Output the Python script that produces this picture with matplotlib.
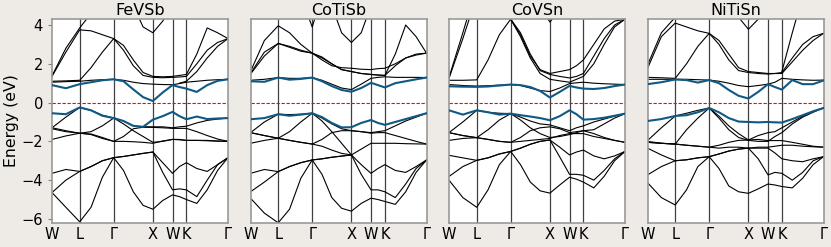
import numpy as np
import matplotlib.pyplot as plt

nan = np.nan

# k-path W-L-G-X-W-K-G (segment lengths in 2pi/a) and sampling per segment
seg_len = [0.707, 0.866, 1.0, 0.5, 0.354, 1.061]
seg_div = [2, 3, 4, 2, 2, 4]
sym_labels = ['W', 'L', 'Γ', 'X', 'W', 'K', 'Γ']

# ---------------------------------------------------------------- FeVSb
fevsb_cb = [0.90, 0.74, 0.95, 1.05, 1.15, 1.20, 1.10, 0.68, 0.28, 0.08, 0.52, 0.90, 0.80, 0.72, 0.55, 0.90, 1.12, 1.20]
fevsb_vb = [-0.55, -0.60, -0.25, -0.40, -0.68, -0.80, -0.95, -1.20, -1.25, -0.88, -0.70, -0.48, -0.70, -0.86, -0.72, -0.85, -0.82, -0.80]
fevsb_bands = [
    [-4.64, -5.40, -6.15, -5.40, -3.85, -2.84, -3.50, -4.60, -5.30, -5.50, -5.05, -4.76, -4.85, -5.00, -5.20, -4.50, -3.50, -2.84],
    [-4.64, -4.00, -3.55, -3.30, -3.00, -2.84, -2.78, -2.70, -2.62, -2.55, -3.60, -4.50, -4.45, -4.50, -4.85, -4.00, -3.20, -2.84],
    [-3.65, -3.45, -3.55, -3.30, -3.00, -2.84, -2.78, -2.70, -2.62, -2.55, -3.10, -3.65, -3.30, -3.10, -3.40, -3.55, -3.20, -2.84],
    [-1.30, -1.45, -1.58, -1.62, -1.80, -2.00, -1.75, -1.35, -1.27, -1.28, -1.30, -1.33, -1.33, -1.33, -1.50, -1.70, -1.88, -2.00],
    [-1.90, -1.72, -1.58, -1.65, -1.85, -2.00, -2.00, -2.02, -2.05, -2.10, -1.98, -1.90, -1.92, -1.95, -1.95, -1.95, -1.98, -2.00],
    [-1.30, -0.75, -0.25, -0.40, -0.65, -0.80, -0.95, -1.20, -1.25, -1.25, -1.25, -1.30, -1.25, -1.22, -1.05, -0.92, -0.85, -0.80],
    [-1.35, -1.50, -1.58, -1.50, -1.20, -0.80, -1.10, -1.45, -1.75, -2.05, -2.00, -1.90, -1.90, -1.95, -1.95, -1.97, -1.99, -2.00],
    [1.05, 1.08, 1.10, 1.15, 1.18, 1.20, 1.15, 1.05, 0.98, 0.95, 0.93, 0.92, 0.98, 1.05, 1.10, 1.15, 1.18, 1.20],
    [1.10, 1.12, 1.15, 1.80, 2.60, 3.30, 2.70, 1.90, 1.40, 1.30, 1.28, 1.30, 1.32, 1.35, 2.00, 2.70, 3.10, 3.30],
    [1.35, 2.60, 3.75, 3.70, 3.50, 3.30, 2.95, 2.20, 1.55, 1.35, 1.33, 1.35, 1.40, 1.45, 2.50, 3.85, 3.60, 3.30],
    [1.38, 2.80, 3.85, 4.60, 5.50, nan, nan, nan, nan, nan, nan, nan, nan, nan, nan, nan, nan, nan],
    [nan, nan, nan, nan, nan, nan, nan, nan, nan, nan, nan, nan, 1.00, 1.10, 1.60, 2.30, 2.90, 3.30],
    [nan, nan, nan, nan, nan, nan, nan, 5.00, 3.90, 3.60, 4.20, 5.00, nan, nan, nan, nan, nan, nan],
]

# ---------------------------------------------------------------- CoTiSb
cotisb_cb = [1.10, 1.07, 1.29, 1.18, 1.22, 1.29, 1.10, 0.85, 0.65, 0.56, 0.75, 1.02, 0.90, 0.78, 1.00, 1.10, 1.20, 1.29]
cotisb_vb = [-0.86, -0.80, -0.60, -0.68, -0.62, -0.55, -0.75, -1.05, -1.28, -1.27, -1.05, -0.90, -1.05, -1.15, -1.00, -0.85, -0.70, -0.55]
cotisb_bands = [
    [-4.93, -5.70, -6.20, -5.50, -3.90, -2.96, -3.70, -4.90, -5.45, -5.60, -5.20, -4.93, -5.00, -5.10, -5.25, -4.60, -3.60, -2.96],
    [-4.60, -4.10, -3.56, -3.30, -3.10, -2.96, -2.90, -2.82, -2.76, -2.70, -3.70, -4.50, -4.50, -4.60, -4.90, -4.20, -3.40, -2.96],
    [-3.65, -3.45, -3.56, -3.30, -3.10, -2.96, -2.90, -2.82, -2.76, -2.70, -3.20, -3.65, -3.40, -3.20, -3.50, -3.60, -3.30, -2.96],
    [-1.55, -1.70, -1.84, -1.95, -2.05, -2.14, -1.90, -1.55, -1.45, -1.45, -1.50, -1.58, -1.55, -1.55, -1.70, -1.85, -2.00, -2.14],
    [-2.10, -1.95, -1.84, -1.95, -2.05, -2.14, -2.25, -2.45, -2.62, -2.70, -2.40, -2.10, -2.10, -2.10, -2.10, -2.12, -2.13, -2.14],
    [-1.55, -1.00, -0.60, -0.62, -0.60, -0.55, -0.80, -1.10, -1.35, -1.45, -1.50, -1.55, -1.50, -1.45, -1.20, -0.95, -0.75, -0.55],
    [-1.55, -1.70, -1.84, -1.50, -1.00, -0.55, -0.95, -1.50, -2.10, -2.70, nan, nan, nan, nan, nan, nan, nan, nan],
    [1.15, 1.20, 1.29, 1.25, 1.25, 1.29, 1.15, 0.95, 0.75, 0.67, 0.95, 1.25, 1.30, 1.33, 1.30, 1.30, 1.30, 1.29],
    [1.47, 2.40, 3.05, 2.90, 2.70, 2.55, 2.20, 1.90, 1.80, 1.77, 1.72, 1.70, 1.75, 1.77, 2.00, 2.30, 2.45, 2.55],
    [1.60, 3.20, 3.96, 3.60, 3.00, 2.55, 2.30, 2.00, 1.70, 1.60, 1.50, 1.45, 1.42, 1.40, 2.50, 4.00, 3.40, 2.55],
    [1.50, 2.60, 3.05, 2.85, 2.65, 2.55, 2.35, 2.00, 1.70, 1.60, 1.50, 1.45, 1.42, 1.40, 1.90, 2.30, 2.50, 2.55],
    [nan, nan, nan, nan, nan, nan, nan, 5.00, 3.60, 3.10, 3.60, 5.00, nan, nan, nan, nan, nan, nan],
    [nan, nan, nan, nan, 5.50, 3.90, 5.50, nan, nan, nan, nan, nan, nan, nan, nan, nan, nan, nan],
]

# ---------------------------------------------------------------- CoVSn
covsn_cb = [0.84, 0.82, 0.81, 0.83, 0.88, 0.93, 0.90, 0.80, 0.60, 0.26, 0.55, 0.86, 0.78, 0.72, 0.70, 0.75, 0.85, 0.93]
covsn_vb = [-0.40, -0.62, -0.40, -0.50, -0.62, -0.57, -0.65, -0.72, -0.80, -0.91, -0.70, -0.40, -0.60, -0.88, -0.85, -0.78, -0.68, -0.57]
covsn_bands = [
    [-4.00, -4.90, -5.40, -4.50, -3.20, -2.52, -3.20, -4.10, -4.55, -4.67, -4.25, -3.85, -3.95, -4.10, -4.40, -3.80, -3.00, -2.52],
    [-3.81, -3.30, -2.98, -2.85, -2.65, -2.52, -2.35, -2.15, -2.00, -1.93, -2.80, -3.70, -3.70, -3.75, -4.00, -3.50, -2.90, -2.52],
    [-2.72, -2.85, -2.98, -2.85, -2.65, -2.52, -2.35, -2.15, -2.00, -1.93, -2.30, -2.70, -2.55, -2.45, -2.75, -2.90, -2.75, -2.52],
    [-1.55, -1.70, -1.81, -1.90, -2.00, -2.05, -1.80, -1.45, -1.30, -1.25, -1.35, -1.55, -1.50, -1.45, -1.60, -1.80, -1.95, -2.05],
    [-1.95, -1.85, -1.81, -1.90, -2.00, -2.05, -2.00, -1.95, -1.90, -1.85, -1.70, -1.60, -1.60, -1.60, -1.75, -1.85, -1.95, -2.05],
    [-1.55, -1.00, -0.40, -0.50, -0.55, -0.57, -0.75, -0.95, -1.10, -1.15, -1.30, -1.45, -1.30, -1.20, -1.00, -0.85, -0.70, -0.57],
    [-1.55, -1.70, -1.81, -1.40, -0.90, -0.57, -0.90, -1.30, -1.60, -1.80, -1.75, -1.65, -1.55, -1.45, -1.40, -1.10, -0.80, -0.57],
    [0.93, 0.88, 0.85, 0.87, 0.90, 0.93, 0.88, 0.75, 0.62, 0.57, 0.75, 0.98, 1.02, 1.05, 1.00, 0.97, 0.95, 0.93],
    [1.15, 1.15, 1.17, 2.20, 3.50, 4.30, 3.40, 2.30, 1.50, 1.20, 1.12, 1.05, 1.20, 1.35, 2.00, 3.00, 3.90, 4.30],
    [1.25, 3.30, 5.50, 5.50, 5.00, 4.30, 3.60, 2.50, 1.65, 1.45, 1.35, 1.27, 1.35, 1.50, 2.40, 3.30, 4.00, 4.30],
    [1.30, 3.60, 6.00, 6.00, 5.50, 4.30, 3.50, 2.40, 1.70, 1.50, 1.60, 1.70, 1.90, 2.20, 3.00, 3.80, 4.20, 4.30],
    [nan, nan, nan, nan, nan, nan, nan, nan, 5.00, 4.15, 4.80, nan, nan, nan, nan, nan, nan, nan],
]

# ---------------------------------------------------------------- NiTiSn
nitisn_cb = [0.95, 1.05, 1.19, 1.16, 1.03, 1.16, 1.00, 0.65, 0.35, 0.21, 0.55, 0.95, 0.80, 0.67, 1.16, 0.95, 0.95, 1.14]
nitisn_vb = [-0.95, -0.85, -0.69, -0.65, -0.50, -0.28, -0.50, -0.80, -0.98, -1.00, -1.02, -1.00, -1.02, -1.03, -0.85, -0.65, -0.45, -0.28]
nitisn_bands = [
    [-4.13, -4.90, -5.28, -4.50, -3.30, -2.79, -3.40, -4.30, -4.60, -4.68, -4.45, -4.20, -4.25, -4.33, -4.40, -3.90, -3.20, -2.79],
    [-3.73, -3.30, -3.00, -2.95, -2.85, -2.79, -2.65, -2.50, -2.40, -2.35, -2.90, -3.73, -3.60, -3.65, -4.00, -3.60, -3.00, -2.79],
    [-2.35, -2.70, -3.00, -2.95, -2.85, -2.79, -2.65, -2.50, -2.40, -2.35, -2.35, -2.35, -2.60, -2.90, -3.00, -3.05, -2.90, -2.79],
    [-2.00, -2.10, -2.14, -2.20, -2.25, -2.30, -2.20, -2.05, -1.95, -1.93, -1.90, -1.96, -1.96, -1.96, -2.05, -2.15, -2.25, -2.30],
    [-2.05, -2.10, -2.14, -2.20, -2.25, -2.30, -2.35, -2.30, -2.30, -2.35, -2.30, -2.30, -2.25, -2.20, -2.20, -2.25, -2.28, -2.30],
    [-1.96, -1.30, -0.69, -0.55, -0.40, -0.28, -0.70, -1.20, -1.60, -1.93, -1.70, -1.55, -1.50, -1.30, -1.00, -0.70, -0.45, -0.28],
    [-2.05, -2.10, -2.14, -1.40, -0.80, -0.28, -0.80, -1.40, -1.80, -1.95, -2.00, -2.00, -1.75, -1.55, -1.10, -0.75, -0.50, -0.28],
    [1.20, 1.20, 1.20, 1.20, 1.18, 1.16, 1.10, 1.00, 0.88, 0.82, 0.88, 0.95, 1.05, 1.25, 1.20, 1.17, 1.15, 1.16],
    [1.30, 1.28, 1.25, 2.00, 2.90, 3.57, 3.00, 2.20, 1.65, 1.55, 1.50, 1.47, 1.50, 1.55, 2.30, 3.00, 3.40, 3.57],
    [1.76, 3.40, 4.10, 3.90, 3.70, 3.57, 3.20, 2.50, 1.80, 1.60, 1.55, 1.50, 1.50, 1.50, 2.10, 2.70, 3.20, 3.57],
    [1.93, 3.60, 4.40, 5.00, nan, nan, nan, nan, nan, nan, nan, nan, nan, 1.60, 3.60, 5.50, nan, nan],
    [nan, nan, nan, nan, nan, nan, nan, nan, 4.40, 3.78, 4.30, nan, nan, nan, nan, nan, nan, nan],
]

materials = ['FeVSb', 'CoTiSb', 'CoVSn', 'NiTiSn']
cb_list = [fevsb_cb, cotisb_cb, covsn_cb, nitisn_cb]
vb_list = [fevsb_vb, cotisb_vb, covsn_vb, nitisn_vb]
band_list = [fevsb_bands, cotisb_bands, covsn_bands, nitisn_bands]

# build k axis from the path geometry
nodes = np.concatenate([[0.0], np.cumsum(seg_len)])
k = [0.0]
for i, n in enumerate(seg_div):
    k += list(np.linspace(nodes[i], nodes[i + 1], n + 1)[1:])
k = np.array(k)

fig = plt.figure(figsize=(8.31, 2.47), dpi=100, facecolor='#eeebe6')
lefts = [52, 250.5, 449, 647.5]
blue = '#0f5a85'

for i, name in enumerate(materials):
    ax = fig.add_axes([lefts[i] / 831, 24 / 247, 176 / 831, 204 / 247])
    for band in band_list[i]:
        ax.plot(k, band, color='k', lw=0.8)
    ax.plot(k, cb_list[i], color=blue, lw=1.5, zorder=3)
    ax.plot(k, vb_list[i], color=blue, lw=1.5, zorder=3)
    for x in nodes[1:-1]:
        ax.axvline(x, color='0.25', lw=0.9, zorder=1)
    ax.axhline(0, color='red', lw=0.8, ls=(0, (3, 1.5)), zorder=2)

    ax.set_xlim(nodes[0], nodes[-1])
    ax.set_ylim(-6.21, 4.31)
    ax.set_xticks(nodes)
    ax.set_xticklabels(sym_labels, fontsize=10.5)
    ax.tick_params(axis='x', length=0, pad=3)
    ax.set_yticks([-6, -4, -2, 0, 2, 4])
    ax.tick_params(axis='y', length=3, color='0.5', labelsize=10.5)
    for s in ax.spines.values():
        s.set_color('0.6')
        s.set_linewidth(1.2)
    ax.set_title(name, fontsize=11.5, pad=3)
    if i == 0:
        ax.set_ylabel('Energy (eV)', fontsize=11.3, labelpad=2)
    else:
        ax.set_yticklabels([])
        ax.tick_params(axis='y', length=0)

fig.savefig('out.png', dpi=100, facecolor=fig.get_facecolor())
